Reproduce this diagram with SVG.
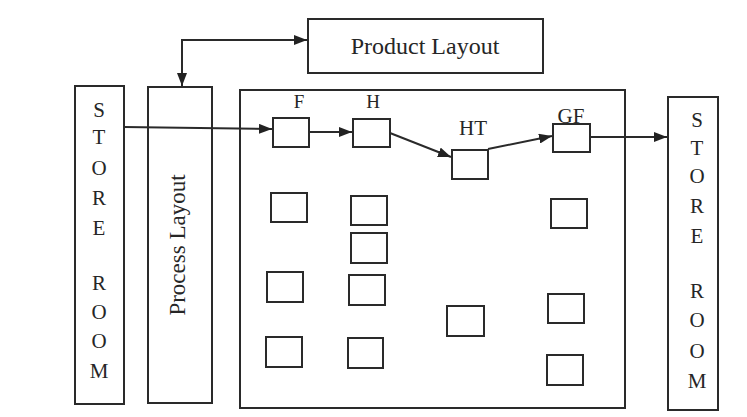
<svg xmlns="http://www.w3.org/2000/svg" width="747" height="417" viewBox="0 0 747 417">
<defs>
<marker id="ah" viewBox="0 0 13 10" refX="13" refY="5" markerWidth="13" markerHeight="10" markerUnits="userSpaceOnUse" orient="auto-start-reverse">
<path d="M0,0 L13,5 L0,10 z" fill="#222"/>
</marker>
<style>
.b{fill:none;stroke:#2a2a2a;stroke-width:2}
.t{font-family:"Liberation Serif","Times New Roman",serif;fill:#262626;}
.lt{font-size:21px;text-anchor:middle}
.c{fill:none;stroke:#2a2a2a;stroke-width:2}
</style>
</defs>
<rect width="747" height="417" fill="#fff"/>
<g id="store-left">
<rect class="b" x="75" y="86" width="49" height="318"/>
<g class="t lt">
<text x="99" y="117">S</text>
<text x="99" y="144">T</text>
<text x="99" y="175">O</text>
<text x="99" y="205">R</text>
<text x="99" y="235">E</text>
<text x="99" y="290">R</text>
<text x="99" y="319">O</text>
<text x="99" y="348">O</text>
<text x="99" y="378">M</text>
</g>
</g>
<g id="process-layout">
<rect class="b" x="148" y="87" width="64" height="316"/>
<text class="t" transform="translate(185,245) rotate(-90)" text-anchor="middle" font-size="23">Process Layout</text>
</g>
<g id="product-layout">
<rect class="b" x="308" y="19" width="235" height="54"/>
<text class="t" x="425" y="54" text-anchor="middle" font-size="24">Product Layout</text>
</g>
<g id="shop-floor">
<rect class="b" x="240" y="90" width="385" height="318"/>
</g>
<g id="store-right">
<rect class="b" x="668" y="97" width="50" height="313"/>
<g class="t lt">
<text x="697" y="127">S</text>
<text x="697" y="155">T</text>
<text x="697" y="183">O</text>
<text x="697" y="213">R</text>
<text x="697" y="243">E</text>
<text x="697" y="298">R</text>
<text x="697" y="327">O</text>
<text x="697" y="358">O</text>
<text x="697" y="388">M</text>
</g>
</g>
<g id="F">
<rect class="b" x="273" y="118" width="36" height="29"/>
<text class="t" x="299" y="108" text-anchor="middle" font-size="19">F</text>
</g>
<g id="H">
<rect class="b" x="353" y="119" width="37" height="28"/>
<text class="t" x="373" y="108" text-anchor="middle" font-size="19">H</text>
</g>
<g id="HT">
<rect class="b" x="452" y="150" width="36" height="29"/>
<text class="t" x="473" y="135" text-anchor="middle" font-size="21">HT</text>
</g>
<g id="GF">
<rect class="b" x="553" y="124" width="37" height="28"/>
<text class="t" x="571" y="123" text-anchor="middle" font-size="21">GF</text>
</g>
<g id="machines">
<rect class="b" x="271" y="193" width="36" height="29"/>
<rect class="b" x="267" y="272" width="36" height="30"/>
<rect class="b" x="266" y="337" width="36" height="30"/>
<rect class="b" x="351" y="196" width="36" height="29"/>
<rect class="b" x="351" y="233" width="36" height="30"/>
<rect class="b" x="349" y="275" width="36" height="30"/>
<rect class="b" x="348" y="338" width="35" height="30"/>
<rect class="b" x="447" y="306" width="37" height="30"/>
<rect class="b" x="551" y="199" width="36" height="29"/>
<rect class="b" x="548" y="294" width="36" height="29"/>
<rect class="b" x="547" y="355" width="36" height="30"/>
</g>
<g id="connectors">
<path class="c" d="M182,86 L182,40 L307,40" marker-start="url(#ah)" marker-end="url(#ah)"/>
<path class="c" d="M124,127 L272,129" marker-end="url(#ah)"/>
<path class="c" d="M309,132 L352,132" marker-end="url(#ah)"/>
<path class="c" d="M390,133 L451,157" marker-end="url(#ah)"/>
<path class="c" d="M488,149 L552,136" marker-end="url(#ah)"/>
<path class="c" d="M590,137 L667,137" marker-end="url(#ah)"/>
</g>
</svg>
